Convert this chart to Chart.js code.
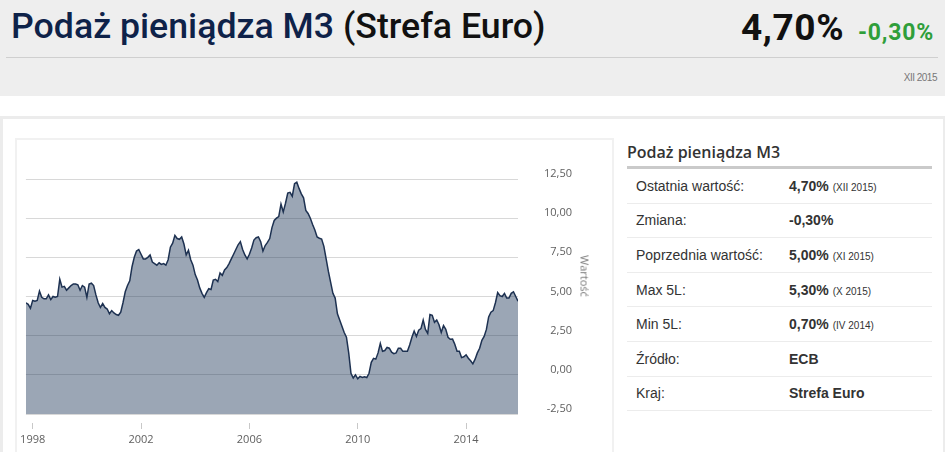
<!DOCTYPE html>
<html>
<head>
<meta charset="utf-8">
<script src="https://cdn.jsdelivr.net/npm/chart.js@4.4.0/dist/chart.umd.min.js"></script>
<style>
body{margin:0;width:945px;height:452px;overflow:hidden;background:#fff;position:relative;font-family:"Liberation Sans",Arial,sans-serif}
#head{position:absolute;left:0;top:0;width:945px;height:96px;background:#eeeeee}
#title{position:absolute;left:11px;top:5px;font:500 35.7px Roboto,sans-serif;color:#0e2249;white-space:nowrap}
#title span{color:#111}
#last{position:absolute;left:741px;top:6px;font:bold 37px Roboto,sans-serif;color:#111;letter-spacing:0.6px}
#chg{position:absolute;left:858px;top:19px;font:bold 23px Roboto,sans-serif;color:#2f9e3a;letter-spacing:0.8px}
#sep{position:absolute;left:6px;top:57px;width:932px;height:1px;background:#cfcfcf}
#date{position:absolute;right:8px;top:72px;font:10px "Liberation Sans",Arial;color:#777;letter-spacing:-0.5px}
#panel{position:absolute;left:0;top:116px;width:940px;height:340px;border-top:3px solid #ececec;border-left:3px solid #ececec;border-right:2px solid #ececec}
#card{position:absolute;left:15px;top:138px;width:595px;height:320px;border:2px solid #f1f1f1}
#box{position:absolute;left:16px;top:140px;width:595px;height:312px}
#ytitle{position:absolute;left:585px;top:276px;transform:translate(-50%,-50%) rotate(90deg);font:11px "Open Sans",sans-serif;color:#777;white-space:nowrap}
#tbl{position:absolute;left:627px;top:140px;width:305px}
#tbl h3{margin:0;height:26px;font:600 16px "Open Sans",sans-serif;color:#333;line-height:24px;border-bottom:3px solid #cacaca}
.row{height:33.6px;border-bottom:1px solid #ececec;font-size:14px;color:#333;display:flex;align-items:center}
.row .k{width:153px;padding-left:9px}
.row .v{font-weight:bold}
.row .v small{font-weight:normal;font-size:10px;margin-left:4px;color:#333}
</style>
</head>
<body>
<div id="head">
  <div id="title">Podaż pieniądza M3 <span>(Strefa Euro)</span></div>
  <div id="last">4,70%</div>
  <div id="chg">-0,30%</div>
  <div id="sep"></div>
  <div id="date">XII 2015</div>
</div>
<div id="panel"></div>
<div id="card"></div>
<div id="box"><canvas id="myChart"></canvas></div>
<div id="ytitle">Wartość</div>
<div id="tbl"><h3>Podaż pieniądza M3</h3><div id="rows"></div></div>
<script>
// monthly M3 growth, Oct 1997 - Dec 2015 (%)
var startYear = 1997, startMonth = 10;
var m3 = [
  4.6, 4.5, 4.25,
  4.75, 4.7, 4.75, 5.35, 4.95, 4.85, 4.85, 5.1, 4.8, 5.0, 4.95, 5.0,
  6.1, 5.6, 5.65, 5.4, 5.55, 5.7, 5.8, 5.8, 5.75, 5.4, 5.7, 5.6,
  4.95, 5.8, 5.85, 5.7, 5.1, 4.6, 4.3, 4.55, 4.3, 4.2, 3.9, 4.1,
  3.95, 3.85, 3.8, 4.0, 4.6, 5.3, 5.7, 6.0, 6.9, 7.5, 7.9, 8.0,
  7.7, 7.4, 7.4, 7.5, 7.65, 7.2, 7.1, 7.0, 7.15, 7.05, 7.1, 7.0,
  7.35, 8.15, 8.4, 8.9, 8.7, 8.65, 8.8, 8.35, 7.65, 7.95, 7.35, 7.0,
  6.4, 6.05, 5.55, 5.2, 4.95, 5.25, 5.5, 5.45, 6.05, 6.1, 5.95, 6.5,
  6.35, 6.7, 6.85, 7.1, 7.4, 7.7, 8.0, 8.3, 8.5, 8.0, 7.65, 7.4,
  7.7, 8.1, 8.6, 8.75, 8.8, 8.5, 7.9, 8.25, 8.45, 8.7, 9.4, 9.85,
  10.0, 10.1, 10.9, 10.4, 10.95, 11.6, 11.65, 11.4, 12.2, 12.3, 11.9, 11.55,
  11.3, 10.5, 10.3, 10.0, 9.6, 9.25, 8.8, 8.72, 8.67, 8.2, 7.4, 6.6,
  5.9, 5.2, 4.9, 3.9, 3.5, 3.1, 2.7, 2.4, 1.4, 0.1, -0.2, 0.0,
  -0.25, -0.1, -0.17, -0.13, -0.17, 0.1, 0.8, 1.05, 1.0, 1.4, 2.0, 1.5,
  1.55, 1.75, 1.7, 1.45, 1.35, 1.4, 1.7, 1.7, 1.5, 1.5, 1.5, 1.9,
  2.4, 2.8, 2.45, 2.85, 2.95, 3.5, 2.9, 2.65, 3.85, 3.8, 3.35, 3.5,
  3.2, 2.7, 3.15, 2.9, 2.4, 2.27, 2.28, 1.95, 1.5, 1.5, 1.1, 1.15,
  1.28, 1.06, 0.9, 0.7, 1.0, 1.4, 1.7, 2.2, 2.45, 2.9, 3.7, 4.0,
  4.1, 4.6, 5.25, 5.05, 5.0, 5.2, 4.9, 4.9, 5.2, 5.3, 5.0, 4.7
];
var tickYears = [1998, 2002, 2006, 2010, 2014];
var yMin = -2.5, yMax = 12.5, yStep = 2.5;

var rowLabels = ["Ostatnia wartość:", "Zmiana:", "Poprzednia wartość:", "Max 5L:", "Min 5L:", "Źródło:", "Kraj:"];
var rowValues = ["4,70%", "-0,30%", "5,00%", "5,30%", "0,70%", "ECB", "Strefa Euro"];
var rowDates = ["(XII 2015)", "", "(XI 2015)", "(X 2015)", "(IV 2014)", "", ""];

var html = "";
for (var i = 0; i < rowLabels.length; i++) {
  html += '<div class="row"><div class="k">' + rowLabels[i] + '</div><div class="v">' + rowValues[i] +
    (rowDates[i] ? '<small>' + rowDates[i] + '</small>' : '') + '</div></div>';
}
document.getElementById("rows").innerHTML = html;

var points = m3.map(function (v, i) {
  return { x: startYear + (startMonth - 1 + i) / 12, y: v };
});

var ctx = document.getElementById("myChart");
var myChart = new Chart(ctx, {
  type: 'line',
  data: {
    datasets: [{
      label: 'M3',
      data: points,
      borderColor: '#1d3151',
      borderWidth: 1.5,
      backgroundColor: 'rgba(34,57,92,0.45)',
      fill: 'start',
      pointRadius: 0,
      tension: 0
    }]
  },
  options: {
    responsive: true,
    maintainAspectRatio: false,
    animation: false,
    layout: { padding: { left: 9, top: 39, right: 39, bottom: 0 } },
    plugins: { legend: { display: false }, tooltip: { enabled: false } },
    scales: {
      x: {
        type: 'linear',
        min: points[0].x,
        max: points[points.length - 1].x,
        afterBuildTicks: function (scale) {
          scale.ticks = tickYears.map(function (y) { return { value: y }; });
        },
        afterFit: function (scale) { scale.height = 38; },
        border: { display: false },
        grid: {
          drawOnChartArea: false,
          tickLength: 15,
          tickColor: '#c8c8c8',
          tickBorderDash: [6, 100],
          tickBorderDashOffset: 97
        },
        ticks: {
          padding: 4,
          maxRotation: 0,
          color: '#606060',
          font: { family: 'Open Sans', size: 11 },
          callback: function (v) { return String(v); }
        }
      },
      y: {
        position: 'right',
        min: yMin,
        max: yMax,
        afterFit: function (scale) { scale.width = 54; },
        border: { display: false },
        grid: { color: '#d8d8d8', drawTicks: false },
        ticks: {
          stepSize: yStep,
          padding: 23,
          crossAlign: 'far',
          labelOffset: -5,
          color: '#606060',
          font: { family: 'Open Sans', size: 11 },
          callback: function (v) { return v.toFixed(2).replace('.', ','); }
        }
      }
    }
  }
});
</script>
</body>
</html>
